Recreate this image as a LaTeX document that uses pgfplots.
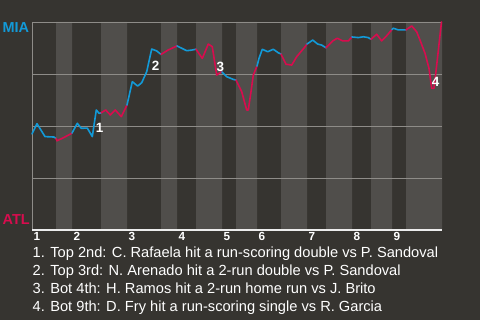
\documentclass[border=0pt]{standalone}
\usepackage{pgfplots}
\pgfplotsset{compat=1.18}
\usepackage{fontspec}
\setmainfont{Liberation Sans}
\definecolor{bgc}{RGB}{54,52,48}
\definecolor{stripe}{RGB}{80,78,75}
\definecolor{gridc}{RGB}{142,140,136}
\definecolor{mia}{RGB}{18,154,216}
\definecolor{atl}{RGB}{216,12,78}
\pgfplotsset{
  wpline/.style={line width=1.6bp, line join=round, line cap=round, no marks},
  topHalf/.style={wpline, color=mia},
  botHalf/.style={wpline, color=atl},
}
\begin{document}
\begin{tikzpicture}
\fill[bgc] (0bp,0bp) rectangle (480bp,320bp);
\begin{axis}[
  at={(32bp,90bp)}, anchor=south west,
  scale only axis, width=410bp, height=208bp,
  xmin=32, xmax=442, ymin=0, ymax=100,
  axis line style={draw=none},
  ytick=\empty,
  xtick={32,72,127,177,222,257,307,352,392},
  xticklabels={\textbf{1},\textbf{2},\textbf{3},\textbf{4},\textbf{5},\textbf{6},\textbf{7},\textbf{8},\textbf{9}},
  xticklabel style={anchor=north west, font=\fontsize{11.8}{12}\selectfont, text=white, inner xsep=1.5bp, inner ysep=2bp},
  major tick length=0pt,
  clip=false,
]
% half-inning stripes (bottom halves lighter)
\addplot[const plot, fill=stripe, draw=none] coordinates {
 (32,0) (56,100) (72,0) (101,100) (127,0) (161,100) (177,0) (196,100) (222,0)
 (236,100) (257,0) (281,100) (307,0) (326,100) (352,0) (371,100) (392,0) (406,100) (442,100)
} \closedcycle;
% grid lines and axes
\draw[gridc, line width=0.9bp] (axis cs:32,25) -- (axis cs:442,25);
\draw[gridc, line width=0.9bp] (axis cs:32,50) -- (axis cs:442,50);
\draw[gridc, line width=0.9bp] (axis cs:32,75) -- (axis cs:442,75);
\draw[gridc, line width=0.9bp] (axis cs:32,100) -- (axis cs:442,100);
\draw[gridc, line width=0.9bp] (axis cs:32,0) -- (axis cs:32,100);
\draw[white!85!gray, line width=1.4bp] (axis cs:32,0) -- (axis cs:442,0);
% win probability (MIA %), by half inning
\addplot[topHalf] coordinates {(32,46.2)(37,51.1)(45,44.9)(54,44.7)(56,44.0)};
\addplot[botHalf] coordinates {(56,44.0)(57,42.9)(64,44.5)(70.7,46.2)(72,46.6)};
\addplot[topHalf] coordinates {(72,46.6)(77.3,51.3)(81.3,48.9)(87.3,49.0)(92.3,44.9)(96.3,57.7)(99,56.1)(101,56.3)};
\addplot[botHalf] coordinates {(101,56.3)(105.7,57.7)(110.3,55.3)(115.3,57.7)(121.3,54.5)(127,60.1)};
\addplot[topHalf] coordinates {(127,60.1)(132.3,71.3)(137.7,69.2)(141.7,70.8)(146.7,76.1)(151.7,87.0)(156.7,86.1)(161,84.4)};
\addplot[botHalf] coordinates {(161,84.4)(168,86.5)(177,88.5)};
\addplot[topHalf] coordinates {(177,88.5)(186.7,86.2)(191.7,86.5)(196,86.9)};
\addplot[botHalf] coordinates {(196,86.9)(202.3,82.5)(208.3,89.4)(212.3,88.1)(216.7,74.5)(221.7,76.1)(222,76.0)};
\addplot[topHalf] coordinates {(222,76.0)(226.7,73.7)(233.3,72.4)(236,72.1)};
\addplot[botHalf] coordinates {(236,72.1)(241.7,66.5)(246.7,57.7)(248.3,57.7)(251,66.5)(253.3,74.5)(257,78.8)};
\addplot[topHalf] coordinates {(257,78.8)(259,82.5)(262.3,86.9)(267.7,85.7)(273.3,86.9)(278.3,85.2)(281,84.6)};
\addplot[botHalf] coordinates {(281,84.6)(286,79.7)(291.7,79.3)(296.7,83.3)(305,88.1)(307,89.4)};
\addplot[topHalf] coordinates {(307,89.4)(312.7,91.3)(317.7,89.4)(321.7,88.9)(326,87.6)};
\addplot[botHalf] coordinates {(326,87.6)(332.7,90.9)(337.3,92.2)(342.7,90.9)(348.3,90.9)(352,92.8)};
\addplot[topHalf] coordinates {(352,92.8)(358.3,92.5)(363.3,92.9)(368.3,92.5)(371,91.7)};
\addplot[botHalf] coordinates {(371,91.7)(376.7,94.1)(381.7,90.9)(386.7,93.4)(392,96.4)};
\addplot[topHalf] coordinates {(392,96.4)(393.3,97.0)(398.3,96.2)(406,96.2)};
\addplot[botHalf] coordinates {(406,96.2)(411.7,98.1)(416.7,95.3)(420,91.3)(425,85.0)(429,77.7)(431.7,68.1)(434,68.1)(436.7,79.3)(439.3,90.5)(441.5,100)};
\end{axis}
% key-play markers
\begin{scope}[every node/.style={text=white, font=\bfseries\fontsize{13.5}{14}\selectfont, inner sep=0pt}]
\node at (99.5bp,192bp) {1};
\node at (155.5bp,253.7bp) {2};
\node at (220.3bp,252.7bp) {3};
\node at (435.5bp,238.2bp) {4};
\end{scope}
% team labels
\node[anchor=west, inner sep=0pt, text=mia, font=\bfseries\fontsize{14.5}{15}\selectfont] at (2.5bp,292bp) {MIA};
\node[anchor=west, inner sep=0pt, text=atl, font=\bfseries\fontsize{14.5}{15}\selectfont] at (2.5bp,100.3bp) {ATL};
% annotations
\begin{scope}[every node/.style={anchor=base west, inner sep=0pt, text=white, font=\fontsize{14.7}{16}\selectfont}]
\node at (32.5bp,62.7bp) {1. Top 2nd: C. Rafaela hit a run-scoring double vs P. Sandoval};
\node at (32.5bp,44.3bp) {2. Top 3rd: N. Arenado hit a 2-run double vs P. Sandoval};
\node at (32.5bp,26.7bp) {3. Bot 4th: H. Ramos hit a 2-run home run vs J. Brito};
\node at (32.5bp,8.3bp) {4. Bot 9th: D. Fry hit a run-scoring single vs R. Garcia};
\end{scope}
\end{tikzpicture}
\end{document}
